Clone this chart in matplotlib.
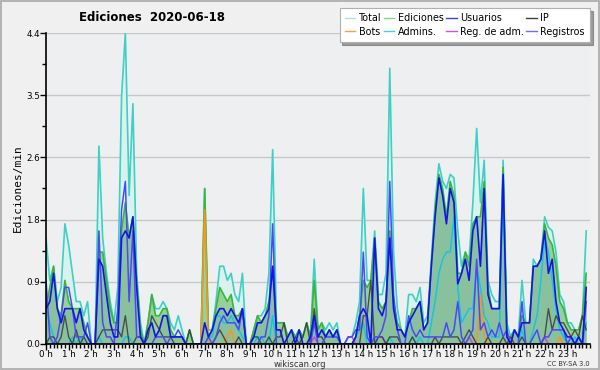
import numpy as np
import matplotlib
matplotlib.use('Agg')
import matplotlib.pyplot as plt
from matplotlib.lines import Line2D

# -----------------------
# DATOS (ediciones/min, cada 10 minutos)
# -----------------------
horas = [f'{h} h' for h in range(24)]

total = [1.5, 0.9, 1.1, 0.6, 0.8, 1.7, 1.4, 1.0, 0.6, 0.6, 0.4, 0.6,
         0.0, 0.0, 2.8, 1.5, 1.0, 0.6, 0.3, 0.8, 3.5, 4.4, 2.1, 3.4,
         1.0, 0.3, 0.0, 0.3, 0.7, 0.5, 0.5, 0.6, 0.5, 0.3, 0.2, 0.4,
         0.2, 0.0, 0.2, 0.0, 0.0, 0.0, 2.2, 0.2, 0.2, 0.6, 1.1, 1.1,
         0.9, 1.0, 0.7, 0.6, 1.0, 0.0, 0.0, 0.2, 0.4, 0.4, 0.5, 1.0,
         2.75, 0.3, 0.3, 0.3, 0.1, 0.2, 0.1, 0.2, 0.1, 0.3, 0.1, 1.2,
         0.2, 0.3, 0.2, 0.3, 0.2, 0.3, 0.0, 0.0, 0.1, 0.1, 0.3, 0.6,
         2.2, 0.9, 0.9, 1.6, 0.7, 0.7, 1.0, 3.9, 1.3, 0.5, 0.2, 0.1,
         0.7, 0.7, 0.6, 0.8, 0.3, 0.4, 1.2, 2.0, 2.55, 2.3, 2.2, 2.4,
         2.35, 1.6, 1.1, 1.3, 1.2, 2.0, 3.05, 2.0, 2.6, 0.9, 0.7, 0.6,
         0.6, 2.6, 0.3, 0.1, 0.2, 0.1, 0.9, 0.3, 0.3, 1.2, 1.1, 1.2,
         1.8, 1.65, 1.6, 1.3, 0.7, 0.6, 0.3, 0.3, 0.2, 0.2, 0.4, 1.6]

ediciones = [0.5, 0.8, 1.1, 0.5, 0.4, 0.9, 0.6, 0.5, 0.5, 0.5, 0.3, 0.1,
             0.0, 0.0, 1.3, 1.3, 0.9, 0.5, 0.3, 0.3, 1.6, 2.0, 1.5, 1.8,
             0.9, 0.2, 0.0, 0.3, 0.7, 0.4, 0.4, 0.5, 0.5, 0.2, 0.1, 0.1,
             0.1, 0.0, 0.2, 0.0, 0.0, 0.0, 2.2, 0.1, 0.2, 0.5, 0.8, 0.7,
             0.6, 0.7, 0.4, 0.4, 0.5, 0.0, 0.0, 0.2, 0.4, 0.3, 0.4, 0.6,
             1.1, 0.3, 0.3, 0.3, 0.1, 0.2, 0.1, 0.2, 0.1, 0.3, 0.1, 0.9,
             0.2, 0.3, 0.1, 0.2, 0.1, 0.2, 0.0, 0.0, 0.0, 0.0, 0.1, 0.4,
             0.9, 0.8, 0.9, 1.5, 0.6, 0.5, 0.6, 1.6, 0.6, 0.3, 0.2, 0.1,
             0.3, 0.5, 0.5, 0.6, 0.2, 0.3, 1.1, 1.9, 2.4, 2.2, 1.8, 2.3,
             2.1, 1.0, 1.0, 1.3, 1.1, 1.7, 1.8, 1.8, 2.3, 0.8, 0.5, 0.5,
             0.5, 2.5, 0.1, 0.1, 0.2, 0.1, 0.4, 0.3, 0.3, 1.1, 1.1, 1.2,
             1.7, 1.5, 1.4, 1.1, 0.6, 0.5, 0.3, 0.2, 0.2, 0.2, 0.4, 1.0]

usuarios = [0.5, 0.6, 1.0, 0.5, 0.3, 0.5, 0.5, 0.5, 0.3, 0.5, 0.2, 0.1,
            0.0, 0.0, 1.2, 1.1, 0.7, 0.3, 0.1, 0.1, 1.5, 1.6, 1.5, 1.8,
            0.8, 0.1, 0.0, 0.2, 0.3, 0.1, 0.2, 0.4, 0.4, 0.1, 0.1, 0.1,
            0.1, 0.0, 0.0, 0.0, 0.0, 0.0, 0.3, 0.1, 0.2, 0.4, 0.5, 0.5,
            0.4, 0.5, 0.4, 0.3, 0.5, 0.0, 0.0, 0.1, 0.3, 0.3, 0.4, 0.5,
            1.1, 0.2, 0.2, 0.0, 0.1, 0.2, 0.0, 0.2, 0.0, 0.0, 0.1, 0.4,
            0.1, 0.2, 0.1, 0.2, 0.1, 0.2, 0.0, 0.0, 0.0, 0.0, 0.1, 0.4,
            0.5, 0.4, 0.0, 1.5, 0.5, 0.4, 0.6, 1.5, 0.5, 0.2, 0.2, 0.1,
            0.3, 0.4, 0.5, 0.6, 0.2, 0.3, 1.1, 1.8, 2.35, 2.1, 1.7, 2.2,
            2.0, 0.85, 1.0, 1.2, 0.9, 1.6, 1.8, 1.1, 2.2, 0.7, 0.5, 0.5,
            0.5, 2.4, 0.1, 0.0, 0.2, 0.1, 0.3, 0.3, 0.3, 1.1, 1.1, 1.2,
            1.6, 1.0, 1.2, 0.6, 0.3, 0.2, 0.1, 0.1, 0.0, 0.1, 0.0, 0.8]

ip = [0.0, 0.1, 0.1, 0.0, 0.1, 0.4, 0.1, 0.0, 0.2, 0.0, 0.1, 0.0,
      0.0, 0.0, 0.1, 0.2, 0.2, 0.2, 0.2, 0.2, 0.1, 0.4, 0.0, 0.0,
      0.1, 0.1, 0.0, 0.1, 0.4, 0.3, 0.2, 0.1, 0.1, 0.1, 0.0, 0.0,
      0.0, 0.0, 0.2, 0.0, 0.0, 0.0, 0.0, 0.0, 0.0, 0.1, 0.2, 0.1,
      0.0, 0.0, 0.0, 0.1, 0.0, 0.0, 0.0, 0.1, 0.1, 0.0, 0.0, 0.1,
      0.0, 0.1, 0.1, 0.3, 0.0, 0.0, 0.1, 0.0, 0.1, 0.3, 0.0, 0.5,
      0.1, 0.1, 0.0, 0.0, 0.0, 0.0, 0.0, 0.0, 0.0, 0.0, 0.0, 0.0,
      0.4, 0.4, 0.9, 0.0, 0.1, 0.1, 0.0, 0.1, 0.1, 0.1, 0.0, 0.0,
      0.0, 0.1, 0.0, 0.0, 0.0, 0.0, 0.0, 0.1, 0.0, 0.1, 0.1, 0.1,
      0.1, 0.1, 0.0, 0.1, 0.2, 0.1, 0.0, 0.0, 0.0, 0.1, 0.0, 0.0,
      0.0, 0.1, 0.0, 0.1, 0.0, 0.0, 0.1, 0.0, 0.0, 0.0, 0.0, 0.0,
      0.1, 0.5, 0.2, 0.4, 0.3, 0.3, 0.2, 0.1, 0.2, 0.1, 0.4, 0.2]

admins = [0.5, 0.3, 0.1, 0.0, 0.0, 0.0, 0.0, 0.1, 0.0, 0.1, 0.0, 0.0,
          0.0, 0.0, 0.1, 0.0, 0.0, 0.0, 0.0, 0.0, 0.0, 0.1, 0.1, 0.0,
          0.0, 0.0, 0.0, 0.0, 0.0, 0.0, 0.0, 0.0, 0.0, 0.0, 0.0, 0.0,
          0.0, 0.0, 0.0, 0.0, 0.0, 0.0, 0.0, 0.1, 0.1, 0.4, 0.4, 0.3,
          0.3, 0.4, 0.3, 0.2, 0.1, 0.0, 0.0, 0.0, 0.1, 0.1, 0.0, 0.0,
          0.4, 0.0, 0.0, 0.0, 0.0, 0.0, 0.0, 0.0, 0.0, 0.0, 0.0, 0.0,
          0.0, 0.0, 0.0, 0.0, 0.0, 0.0, 0.0, 0.0, 0.0, 0.0, 0.1, 0.2,
          0.3, 0.0, 0.0, 0.1, 0.0, 0.0, 0.0, 0.1, 0.0, 0.0, 0.0, 0.0,
          0.0, 0.1, 0.0, 0.1, 0.0, 0.0, 0.3, 0.6, 1.0, 1.2, 1.3, 1.3,
          1.8, 0.8, 0.3, 0.4, 0.5, 0.5, 1.1, 0.8, 0.4, 0.3, 0.1, 0.1,
          0.1, 2.4, 0.1, 0.0, 0.0, 0.0, 0.2, 0.0, 0.0, 0.2, 0.4, 0.9,
          1.5, 1.3, 0.9, 0.5, 0.2, 0.1, 0.0, 0.0, 0.1, 0.0, 0.0, 0.3]

registros = [0.9, 0.1, 0.0, 0.1, 0.4, 0.8, 0.8, 0.5, 0.1, 0.1, 0.1, 0.3,
             0.0, 0.0, 1.6, 0.3, 0.1, 0.1, 0.0, 0.5, 1.9, 2.3, 0.6, 1.6,
             0.1, 0.1, 0.0, 0.0, 0.0, 0.1, 0.1, 0.1, 0.0, 0.1, 0.1, 0.2,
             0.1, 0.0, 0.0, 0.0, 0.0, 0.0, 0.0, 0.1, 0.0, 0.1, 0.3, 0.4,
             0.3, 0.3, 0.3, 0.2, 0.5, 0.0, 0.0, 0.0, 0.0, 0.1, 0.1, 0.4,
             1.7, 0.0, 0.0, 0.0, 0.0, 0.0, 0.0, 0.0, 0.0, 0.0, 0.0, 0.3,
             0.0, 0.0, 0.1, 0.1, 0.1, 0.1, 0.0, 0.0, 0.1, 0.1, 0.2, 0.2,
             1.3, 0.1, 0.0, 0.1, 0.1, 0.2, 0.4, 2.3, 0.7, 0.2, 0.0, 0.0,
             0.4, 0.2, 0.1, 0.2, 0.1, 0.1, 0.1, 0.1, 0.1, 0.1, 0.3, 0.1,
             0.2, 0.6, 0.1, 0.0, 0.1, 0.2, 1.2, 0.2, 0.3, 0.1, 0.2, 0.1,
             0.3, 0.1, 0.2, 0.0, 0.0, 0.0, 0.6, 0.0, 0.0, 0.1, 0.2, 0.0,
             0.1, 0.1, 0.2, 0.2, 0.2, 0.2, 0.0, 0.1, 0.0, 0.1, 0.0, 0.6]

bots = [0.0] * 144
for i, v in [(42, 1.9), (48, 0.1), (49, 0.2), (115, 0.7), (116, 0.1), (123, 0.1), (136, 0.1)]:
    bots[i] = v

reg_adm = [0.0] * 144
for i in [71, 80, 81, 88, 89, 112, 132]:
    reg_adm[i] = 0.1

# -----------------------
# FIGURA
# -----------------------
x = np.arange(144)
fig = plt.figure(figsize=(6, 3.7), dpi=100, facecolor='#f0f0f0')
fig.patches.append(plt.Rectangle((0.0015, 0.0025), 0.997, 0.995, transform=fig.transFigure,
                                 fill=False, edgecolor='#a8a8a8', linewidth=1.2))
ax = fig.add_axes([0.0767, 0.0703, 0.9066, 0.8405])
ax.set_facecolor('#eeeff1')

ax.fill_between(x, total, color='#d9f2ee', lw=0)
ax.fill_between(x, ediciones, color='#98d198', lw=0)
ax.fill_between(x, usuarios, color='#3060c8', alpha=0.14, lw=0)

ax.plot(x, total, color='#3ed0c4', lw=1.2)
ax.plot(x, ediciones, color='#3cb43c', lw=1.2)
ax.plot(x, admins, color='#18c4e0', lw=1.1)
ax.plot(x, bots, color='#ff9418', lw=1.1)
ax.plot(x, reg_adm, color='#d040e0', lw=1.0)
ax.plot(x, ip, color='#3a3a3a', lw=1.0, alpha=0.85)
ax.plot(x, registros, color='#4a4af4', lw=1.1)
ax.plot(x, usuarios, color='#1414e6', lw=1.2)

ax.set_xlim(0, 144)
ax.set_ylim(0, 4.4)
yt = np.linspace(0, 4.4, 6)
ax.set_yticks(yt)
ax.set_yticklabels([f'{v:.1f}' for v in yt])
ax.set_yticks(np.arange(0.44, 4.4, 0.88), minor=True)
ax.set_xticks(np.arange(0, 144, 6))
ax.set_xticklabels(horas)
ax.set_xticks(np.arange(0, 145, 1), minor=True)
ax.tick_params(axis='both', which='major', labelsize=6.3, length=4, width=1, pad=0.5, colors='black')
ax.tick_params(axis='both', which='minor', length=3, width=1)
ax.grid(axis='y', which='major', color='#c8c8c8', lw=1)
ax.set_axisbelow(True)
for s in ['top', 'right']:
    ax.spines[s].set_visible(False)
for s in ['left', 'bottom']:
    ax.spines[s].set_linewidth(1.2)
ax.set_ylabel('Ediciones/min', fontsize=8, family='DejaVu Sans Mono', labelpad=2)

fig.text(0.253, 0.953, 'Ediciones  2020-06-18', ha='center', va='center',
         fontsize=8.5, fontweight='bold')
fig.text(0.5, 0.016, 'wikiscan.org', ha='center', va='center', fontsize=6, color='#333333')
fig.text(0.983, 0.016, 'CC BY-SA 3.0', ha='right', va='center', fontsize=4.8, color='#333333')

nombres = ['Total', 'Bots', 'Ediciones', 'Admins.', 'Usuarios', 'Reg. de adm.', 'IP', 'Registros']
colores = ['#a8e4e0', '#f8a040', '#88d488', '#40cce0', '#4040e8', '#d050e0', '#404040', '#7070ff']
handles = [Line2D([0], [0], color=c, lw=1) for c in colores]
leg = fig.legend(handles, nombres, ncol=4, loc='upper right', bbox_to_anchor=(0.983, 0.978),
                 fontsize=6.9, frameon=True, fancybox=False, shadow=True, borderpad=0.55,
                 handlelength=1.1, handletextpad=0.35, columnspacing=0.25, labelspacing=0.35,
                 borderaxespad=0)
leg.get_frame().set_edgecolor('#b0b0b0')
leg.get_frame().set_linewidth(0.8)

fig.savefig('out.png', dpi=100, facecolor=fig.get_facecolor())
